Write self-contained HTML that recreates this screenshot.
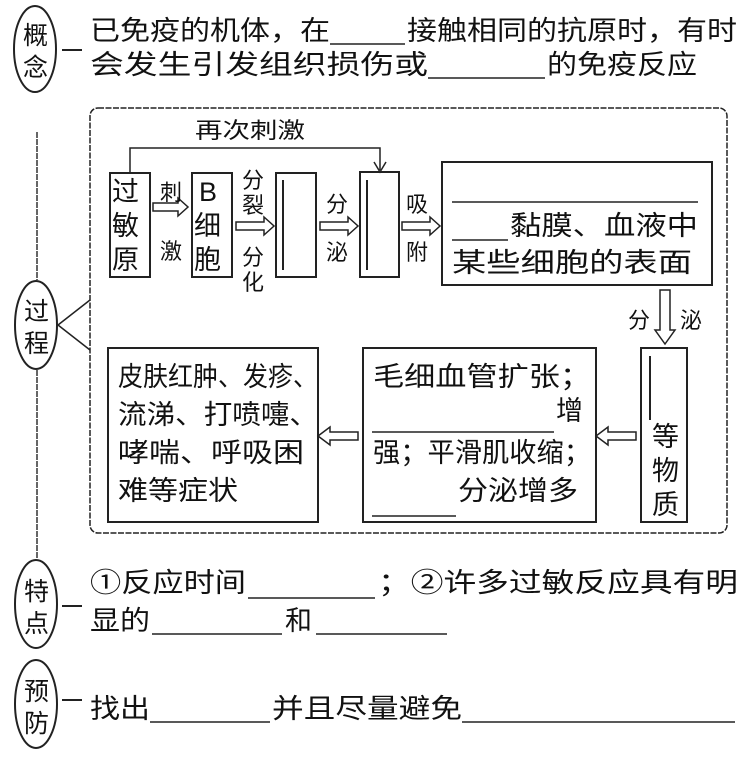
<!DOCTYPE html>
<html><head><meta charset="utf-8"><style>
html,body{margin:0;padding:0;background:#fff}
svg{display:block}
text{font-family:"Liberation Sans","Noto Sans CJK SC",sans-serif;fill:#111}
</style></head><body>
<svg width="748" height="764" viewBox="0 0 748 764" xmlns="http://www.w3.org/2000/svg">
<g fill="none" stroke="#222" stroke-width="2">
<ellipse cx="35" cy="49" rx="21" ry="43"/>
<ellipse cx="36" cy="325" rx="21" ry="44"/>
<ellipse cx="36" cy="604" rx="21" ry="44"/>
<ellipse cx="36" cy="704" rx="21" ry="44"/>
<line x1="37" y1="132" x2="37" y2="280" stroke="#666" stroke-dasharray="6,1"/>
<line x1="37" y1="370" x2="37" y2="558" stroke="#666" stroke-dasharray="6,1"/>
<path d="M58 325 L90 300 M58 325 L90 350" stroke-width="1.5"/>
<rect x="90" y="108" width="637" height="425" rx="8" stroke-dasharray="6,1.5" stroke-width="1.5"/>
<rect x="110" y="173" width="40" height="104"/>
<rect x="192" y="173" width="40" height="104"/>
<rect x="276" y="173" width="40" height="104"/>
<line x1="283" y1="180" x2="283" y2="270"/>
<rect x="360" y="172" width="39" height="105"/>
<line x1="367" y1="180" x2="367" y2="270"/>
<rect x="442" y="162" width="270" height="123"/>
<rect x="108" y="348" width="210" height="174"/>
<rect x="363" y="348" width="233" height="174"/>
<rect x="641" y="348" width="46" height="174"/>
<line x1="650" y1="356" x2="650" y2="420"/>
<path d="M130 173 V148 H380 V170" stroke-width="1.5"/>
<path d="M374 162 L380 172 L386 162" stroke-width="1.5"/>
<path d="M153 203h25v-5l10 9-10 9v-5h-25z" stroke-width="1.5"/>
<path d="M236 222h28v-5l10 9-10 9v-5h-28z" stroke-width="1.5"/>
<path d="M320 222h28v-5l10 9-10 9v-5h-28z" stroke-width="1.5"/>
<path d="M402 222h28v-5l10 9-10 9v-5h-28z" stroke-width="1.5"/>
<path d="M660 290v40h-5l10 14 10-14h-5v-40z" stroke-width="1.5"/>
<path d="M636 432h-28v-5l-12 9 12 9v-5h28z" stroke-width="1.5"/>
<path d="M358 432h-28v-5l-12 9 12 9v-5h28z" stroke-width="1.5"/>
<path d="M62 50h20M62 606h20M62 700h20" stroke-width="2"/>
<g stroke-width="1.5">
<line x1="330" y1="44" x2="405" y2="44"/>
<line x1="428" y1="78" x2="545" y2="78"/>
<line x1="452" y1="202" x2="698" y2="202"/>
<line x1="452" y1="240" x2="508" y2="240"/>
<line x1="372" y1="432" x2="554" y2="432"/>
<line x1="372" y1="516" x2="456" y2="516"/>
<line x1="248" y1="598" x2="375" y2="598"/>
<line x1="152" y1="634" x2="282" y2="634"/>
<line x1="316" y1="634" x2="447" y2="634"/>
<line x1="150" y1="722" x2="270" y2="722"/>
<line x1="462" y1="722" x2="735" y2="722"/>
</g>
</g>
<g font-size="25">
<text x="23" y="44">概</text><text x="23" y="76">念</text>
<text x="24" y="320">过</text><text x="24" y="352">程</text>
<text x="24" y="600">特</text><text x="24" y="632">点</text>
<text x="24" y="700">预</text><text x="24" y="732">防</text>
</g>
<g font-size="27">
<text x="90" y="40" textLength="240" lengthAdjust="spacingAndGlyphs">已免疫的机体，在</text>
<text x="407" y="40" textLength="330" lengthAdjust="spacingAndGlyphs">接触相同的抗原时，有时</text>
<text x="90" y="74" textLength="338" lengthAdjust="spacingAndGlyphs">会发生引发组织损伤或</text>
<text x="547" y="74" textLength="150" lengthAdjust="spacingAndGlyphs">的免疫反应</text>
<text x="112" y="201">过</text><text x="112" y="235">敏</text><text x="112" y="269">原</text>
<text x="199" y="201">B</text><text x="194" y="235">细</text><text x="194" y="269">胞</text>
<text x="510" y="235" textLength="188" lengthAdjust="spacingAndGlyphs">黏膜、血液中</text>
<text x="452" y="272" textLength="240" lengthAdjust="spacingAndGlyphs">某些细胞的表面</text>
<text x="118" y="386" textLength="200" lengthAdjust="spacingAndGlyphs">皮肤红肿、发疹、</text>
<text x="118" y="424" textLength="200" lengthAdjust="spacingAndGlyphs">流涕、打喷嚏、</text>
<text x="118" y="462" textLength="186" lengthAdjust="spacingAndGlyphs">哮喘、呼吸困</text>
<text x="118" y="500" textLength="120" lengthAdjust="spacingAndGlyphs">难等症状</text>
<text x="373" y="386" textLength="218" lengthAdjust="spacingAndGlyphs">毛细血管扩张；</text>
<text x="556" y="420">增</text>
<text x="373" y="462" textLength="218" lengthAdjust="spacingAndGlyphs">强；平滑肌收缩；</text>
<text x="458" y="500" textLength="120" lengthAdjust="spacingAndGlyphs">分泌增多</text>
<text x="652" y="446">等</text><text x="652" y="480">物</text><text x="652" y="514">质</text>
<text x="90" y="592" textLength="156" lengthAdjust="spacingAndGlyphs">①反应时间</text>
<text x="378" y="592" textLength="360" lengthAdjust="spacingAndGlyphs">；②许多过敏反应具有明</text>
<text x="90" y="630" textLength="60" lengthAdjust="spacingAndGlyphs">显的</text>
<text x="285" y="630">和</text>
<text x="90" y="718" textLength="60" lengthAdjust="spacingAndGlyphs">找出</text>
<text x="272" y="718" textLength="190" lengthAdjust="spacingAndGlyphs">并且尽量避免</text>
</g>
<g font-size="22">
<text x="195" y="138" textLength="110" lengthAdjust="spacingAndGlyphs">再次刺激</text>
<text x="160" y="200">刺</text><text x="160" y="259">激</text>
<text x="242" y="188">分</text><text x="242" y="213">裂</text><text x="242" y="265">分</text><text x="242" y="290">化</text>
<text x="326" y="212">分</text><text x="326" y="260">泌</text>
<text x="406" y="212">吸</text><text x="406" y="260">附</text>
<text x="628" y="328">分</text><text x="680" y="328">泌</text>
</g>
</svg>
</body></html>
